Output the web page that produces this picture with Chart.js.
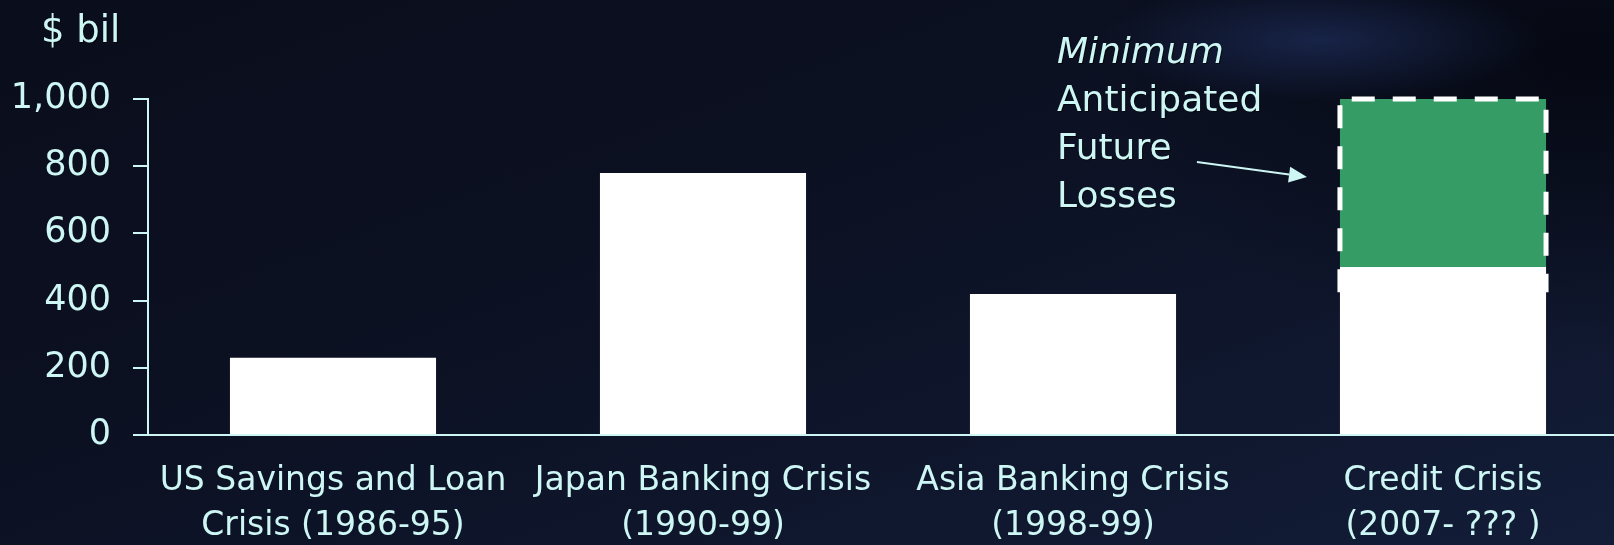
<!DOCTYPE html>
<html>
<head>
<meta charset="utf-8">
<script src="https://cdn.jsdelivr.net/npm/chart.js@4.4.1/dist/chart.umd.min.js"></script>
<style>
  html, body {
    margin: 0;
    padding: 0;
    width: 1614px;
    height: 545px;
    overflow: hidden;
    background:
      radial-gradient(ellipse 220px 60px at 1320px 40px, rgba(38, 58, 115, 0.5), rgba(38, 58, 115, 0) 100%),
      radial-gradient(ellipse 500px 300px at 1590px 60px, rgba(2, 4, 10, 0.7), rgba(2, 4, 10, 0) 100%),
      linear-gradient(160deg, #0a0d1b 0%, #0c1123 45%, #131d38 100%);
  }
  #wrap {
    position: relative;
    width: 1628px;
    height: 545px;
  }
</style>
</head>
<body>
<div id="wrap"><canvas id="lossChart"></canvas></div>
<script>
const categories = [
    ['US Savings and Loan', 'Crisis (1986-95)'],
    ['Japan Banking Crisis', '(1990-99)'],
    ['Asia Banking Crisis', '(1998-99)'],
    ['Credit Crisis', '(2007- ??? )'],
];
const realizedLosses = [230, 780, 420, 500];
const anticipatedLosses = [null, null, null, 500];
const yTicks = [0, 200, 400, 600, 800, 1000];

const textColor = '#cdf6f4';
const fontFamily = "'DejaVu Sans', Verdana, sans-serif";

// dashed outline round the anticipated part, plus the note and arrow
const notePlugin = {
    id: 'notePlugin',
    afterDatasetsDraw(chart) {
        const ctx = chart.ctx;
        const yScale = chart.scales.y;
        const bar = chart.getDatasetMeta(1).data[3];
        if (!bar) return;
        const left = bar.x - bar.width / 2;
        const right = bar.x + bar.width / 2;
        const bottom = yScale.getPixelForValue(425);

        ctx.save();
        ctx.strokeStyle = '#ffffff';
        ctx.lineWidth = 5;
        ctx.setLineDash([23, 18]);
        ctx.beginPath();
        ctx.moveTo(left, bottom);
        ctx.lineTo(left, bar.y);
        ctx.lineTo(right, bar.y);
        ctx.lineTo(right, bottom);
        ctx.stroke();
        ctx.restore();

        ctx.save();
        ctx.fillStyle = textColor;
        ctx.textAlign = 'left';
        ctx.textBaseline = 'alphabetic';
        ctx.shadowColor = 'rgba(0,0,0,0.6)';
        ctx.shadowOffsetX = 1;
        ctx.shadowOffsetY = 1;
        const tx = left - 283;
        ctx.font = "italic 36px " + fontFamily;
        ctx.fillText('Minimum', tx, 63);
        ctx.font = "36px " + fontFamily;
        ctx.fillText('Anticipated', tx, 111);
        ctx.fillText('Future', tx, 159);
        ctx.fillText('Losses', tx, 207);

        ctx.font = "37px " + fontFamily;
        ctx.fillText('$ bil', 41, 42);
        ctx.restore();

        // arrow
        const x1 = left - 143, y1 = 162;
        const x2 = left - 33, y2 = 177;
        const ang = Math.atan2(y2 - y1, x2 - x1);
        const headLen = 18, headHalf = 8;
        ctx.save();
        ctx.strokeStyle = textColor;
        ctx.fillStyle = textColor;
        ctx.lineWidth = 2;
        ctx.beginPath();
        ctx.moveTo(x1, y1);
        ctx.lineTo(x2 - headLen * Math.cos(ang), y2 - headLen * Math.sin(ang));
        ctx.stroke();
        ctx.beginPath();
        ctx.moveTo(x2, y2);
        ctx.lineTo(x2 - headLen * Math.cos(ang) + headHalf * Math.sin(ang), y2 - headLen * Math.sin(ang) - headHalf * Math.cos(ang));
        ctx.lineTo(x2 - headLen * Math.cos(ang) - headHalf * Math.sin(ang), y2 - headLen * Math.sin(ang) + headHalf * Math.cos(ang));
        ctx.closePath();
        ctx.fill();
        ctx.restore();
    }
};

new Chart(document.getElementById('lossChart'), {
    type: 'bar',
    data: {
        labels: categories,
        datasets: [{
            label: 'Losses',
            data: realizedLosses,
            backgroundColor: '#ffffff',
            barPercentage: 0.557,
            categoryPercentage: 1,
        }, {
            label: 'Minimum Anticipated Future Losses',
            data: anticipatedLosses,
            backgroundColor: '#369c66',
            barPercentage: 0.557,
            categoryPercentage: 1,
        }]
    },
    options: {
        responsive: true,
        maintainAspectRatio: false,
        animation: false,
        layout: { padding: { top: 99, left: 0, right: 0, bottom: 0 } },
        plugins: {
            legend: { display: false },
            tooltip: { enabled: false },
        },
        scales: {
            x: {
                stacked: true,
                grid: { display: false, drawTicks: false },
                border: { display: true, color: textColor, width: 2 },
                ticks: {
                    color: textColor,
                    font: { family: fontFamily, size: 33, lineHeight: 1.36 },
                    padding: 24,
                    maxRotation: 0,
                    autoSkip: false,
                },
                afterFit(scale) { scale.height = 110; },
            },
            y: {
                stacked: true,
                min: 0,
                max: 1000,
                afterBuildTicks(scale) {
                    scale.ticks = yTicks.map(v => ({ value: v }));
                },
                grid: {
                    drawOnChartArea: false,
                    drawTicks: true,
                    tickLength: 15,
                    color: textColor,
                    lineWidth: 2,
                },
                border: { display: true, color: textColor, width: 2 },
                ticks: {
                    color: textColor,
                    font: { family: fontFamily, size: 35 },
                    padding: 22,
                    callback: v => v.toLocaleString('en-US'),
                },
                afterFit(scale) { scale.width = 148; },
            }
        }
    },
    plugins: [notePlugin]
});
</script>
</body>
</html>
